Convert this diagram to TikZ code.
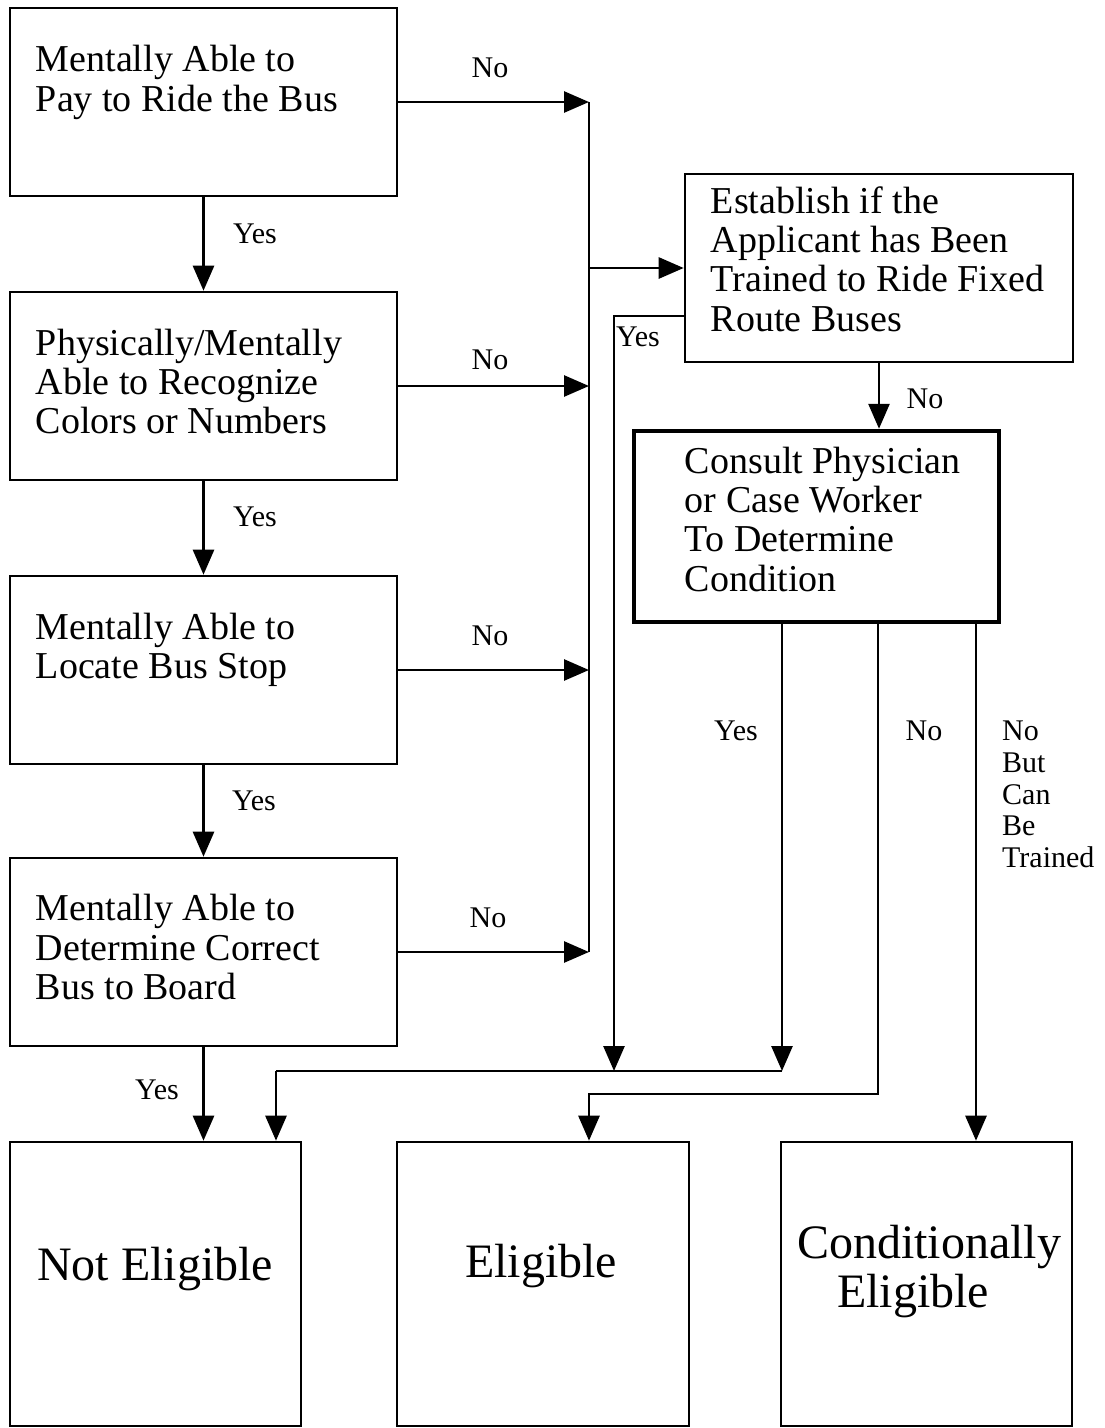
\documentclass[tikz,border=0pt]{standalone}
\usepackage{fontspec}
\setmainfont{Liberation Serif}
\usetikzlibrary{arrows.meta}
\begin{document}
\begin{tikzpicture}[x=1pt,y=-1pt,
  box/.style={draw, line width=2.6pt, rectangle, inner sep=0pt},
  thickbox/.style={box, line width=4.5pt},
  btxt/.style={font=\fontsize{38}{39.3}\selectfont, align=left, inner sep=0pt, anchor=north west, execute at begin node=\strut},
  lbl/.style={font=\fontsize{30}{31.7}\selectfont, inner sep=0pt},
  big/.style={font=\fontsize{48}{49}\selectfont, inner sep=0pt, anchor=base},
  conn/.style={line width=2.7pt},
  arr/.style={conn, -{Triangle[length=25pt,width=21pt]}}
]
\useasboundingbox (0,0) rectangle (1104,1428);

% decision boxes
\node[box, minimum width=387, minimum height=188] (b1) at (203.5,102) {};
\node[box, minimum width=387, minimum height=188] (b2) at (203.5,386) {};
\node[box, minimum width=387, minimum height=188] (b3) at (203.5,670) {};
\node[box, minimum width=387, minimum height=188] (b4) at (203.5,952) {};
\node[box, minimum width=388, minimum height=188] (est) at (879,268) {};
\node[thickbox, minimum width=365, minimum height=191] (cons) at (816.5,526.5) {};
% outcome boxes
\node[box, minimum width=291, minimum height=284] (ne) at (155.5,1284) {};
\node[box, minimum width=292, minimum height=284] (el) at (543,1284) {};
\node[box, minimum width=291, minimum height=284] (ce) at (926.5,1284) {};

% box texts
\node[btxt] (t1) at ([xshift=27pt,yshift=-38.5pt]b1.north west) {Mentally Able to\\Pay to Ride the Bus};
\node[btxt] (t2) at ([xshift=27pt,yshift=-38pt]b2.north west) {Physically/Mentally\\Able to Recognize\\Colors or Numbers};
\node[btxt] (t3) at ([xshift=27pt,yshift=-38pt]b3.north west) {Mentally Able to\\Locate Bus Stop};
\node[btxt] (t4) at ([xshift=27pt,yshift=-37.5pt]b4.north west) {Mentally Able to\\Determine Correct\\Bus to Board};
\node[btxt] (te) at ([xshift=27pt,yshift=-13.5pt]est.north west) {Establish if the\\Applicant has Been\\Trained to Ride Fixed\\Route Buses};
\node[btxt] (tc) at ([xshift=53pt,yshift=-18pt]cons.north west) {Consult Physician\\or Case Worker\\To Determine\\Condition};

\node[big] (tne) at (155,1280) {Not Eligible};
\node[big] (tel) at (541,1277) {Eligible};
\node[big, align=left, anchor=north west] (tce) at (797,1225) {Conditionally\\\hspace*{40pt}Eligible};

% connector coordinates
\coordinate (bt) at (589,102);
\coordinate (bb) at (589,952);
\coordinate (eyA) at ([yshift=-48pt]est.west);
\coordinate (eyB) at (614,1071);
\coordinate (mL) at (276,1071);
\coordinate (mR) at (782,1071);
\coordinate (nA) at (878,1094);
\coordinate (nB) at (589,1094);
\coordinate (tx) at (976,700);

% Yes chain on the left
\draw[arr] (b1.south) -- (b2.north);
\draw[arr] (b2.south) -- (b3.north);
\draw[arr] (b3.south) -- (b4.north);
\draw[arr] (b4.south) -- (b4.south |- ne.north);

% No arrows to the bus
\draw[arr] (b1.east) -- (b1.east -| bt);
\draw[arr] (b2.east) -- (b2.east -| bt);
\draw[arr] (b3.east) -- (b3.east -| bt);
\draw[arr] (b4.east) -- (b4.east -| bt);
\draw[conn] (bt) -- (bb);
\draw[arr] (est.west -| bt) -- (est.west);

% Establish outputs
\draw[arr] (eyA) -| (eyB);
\draw[arr] (est.south) -- (est.south |- cons.north);

% Consult outputs
\draw[arr] (cons.south -| mR) -- (mR);
\draw[conn] (mR) -- (mL);
\draw[arr] (mL) -- (mL |- ne.north);
\draw[arr] (cons.south -| nA) -- (nA) -- (nB) -- (nB |- el.north);
\draw[arr] (cons.south -| tx) -- (ce.north -| tx);

% labels
\node[lbl] (lno1) at (490,68) {No};
\node[lbl] (lno2) at (490,360) {No};
\node[lbl] (lno3) at (490,636) {No};
\node[lbl] (lno4) at (488,918) {No};
\node[lbl] (lyes1) at (255,234) {Yes};
\node[lbl] (lyes2) at (255,517) {Yes};
\node[lbl] (lyes3) at (254,801) {Yes};
\node[lbl] (lyes4) at (157,1090) {Yes};
\node[lbl] (lyes5) at (638,337) {Yes};
\node[lbl] (lno5) at (925,399) {No};
\node[lbl] (lyes6) at (736,731) {Yes};
\node[lbl] (lno6) at (924,731) {No};
\node[lbl, align=left, anchor=north west, execute at begin node=\strut] (lnbt) at (1002,721) {No\\But\\Can\\Be\\Trained};
\end{tikzpicture}
\end{document}
